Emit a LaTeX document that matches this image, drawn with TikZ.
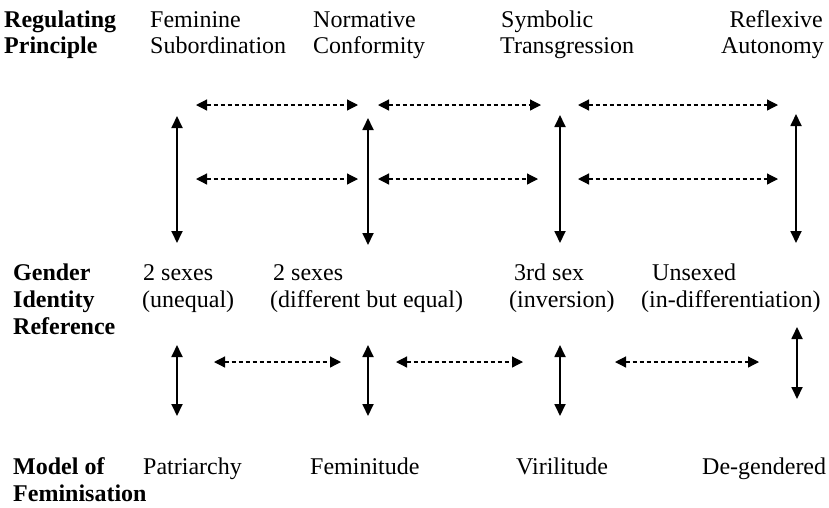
\documentclass[tikz,border=0pt]{standalone}
\usepackage{fontspec}
\setmainfont{Liberation Serif}
\usetikzlibrary{arrows.meta}
\tikzset{
  lbl/.style={anchor=base west, inner sep=0pt, font=\fontsize{24}{26.5}\selectfont},
  hdr/.style={lbl, font=\fontsize{24}{26.5}\selectfont\bfseries},
  rlbl/.style={lbl, anchor=base east},
  solidarrow/.style={line width=1.8pt, {Triangle[length=12pt,width=11pt]}-{Triangle[length=12pt,width=11pt]}},
  dasharrow/.style={line width=1.2pt, dash pattern=on 4pt off 3pt, {Triangle[length=11pt,width=11pt]}-{Triangle[length=11pt,width=11pt]}}
}
\begin{document}
\begin{tikzpicture}[x=1pt,y=-1pt]
\useasboundingbox (0,0) rectangle (829,507);
% header column
\node[hdr] (h1a) at (4,27) {Regulating};
\node[hdr] (h1b) at (4,53) {Principle};
\node[hdr] (h2a) at (13,280) {Gender};
\node[hdr] (h2b) at (13,307) {Identity};
\node[hdr] (h2c) at (13,334) {Reference};
\node[hdr] (h3a) at (13,474) {Model of};
\node[hdr] (h3b) at (13,501) {Feminisation};
% top row
\node[lbl] (t1a) at (150,27) {Feminine};
\node[lbl] (t1b) at (150,53) {Subordination};
\node[lbl] (t2a) at (313,27) {Normative};
\node[lbl] (t2b) at (313,53) {Conformity};
\node[lbl] (t3a) at (501,27) {Symbolic};
\node[lbl] (t3b) at (500,53) {Transgression};
\node[rlbl] (t4a) at (823,27) {Reflexive};
\node[rlbl] (t4b) at (824,53) {Autonomy};
% middle row
\node[lbl] (m1a) at (143,280) {2 sexes};
\node[lbl] (m1b) at (142,307) {(unequal)};
\node[lbl] (m2a) at (273,280) {2 sexes};
\node[lbl] (m2b) at (270,307) {(different but equal)};
\node[lbl] (m3a) at (514,280) {3rd sex};
\node[lbl] (m3b) at (509,307) {(inversion)};
\node[lbl] (m4a) at (652,280) {Unsexed};
\node[lbl] (m4b) at (641,307) {(in-differentiation)};
% bottom row
\node[lbl] (b1) at (143,474) {Patriarchy};
\node[lbl] (b2) at (310,474) {Feminitude};
\node[lbl] (b3) at (516,474) {Virilitude};
\node[lbl] (b4) at (702,474) {De-gendered};
% coordinates for arrow ends
\coordinate (ua1t) at (177,116); \coordinate (ua1b) at (177,243);
\coordinate (ua2t) at (368,118); \coordinate (ua2b) at (368,245);
\coordinate (ua3t) at (560,115); \coordinate (ua3b) at (560,243);
\coordinate (ua4t) at (796,114); \coordinate (ua4b) at (796,243);
\coordinate (la1t) at (177,345); \coordinate (la1b) at (177,416);
\coordinate (la2t) at (368,345); \coordinate (la2b) at (368,416);
\coordinate (la3t) at (560,345); \coordinate (la3b) at (560,416);
\coordinate (la4t) at (797,327); \coordinate (la4b) at (797,399);
\coordinate (r1a) at (196,105); \coordinate (r1b) at (358,105);
\coordinate (r1c) at (378,105); \coordinate (r1d) at (541,105);
\coordinate (r1e) at (578,105); \coordinate (r1f) at (778,105);
\coordinate (r2a) at (196,179); \coordinate (r2b) at (358,179);
\coordinate (r2c) at (378,179); \coordinate (r2d) at (538,179);
\coordinate (r2e) at (578,179); \coordinate (r2f) at (778,179);
\coordinate (r3a) at (214,362); \coordinate (r3b) at (341,362);
\coordinate (r3c) at (396,362); \coordinate (r3d) at (523,362);
\coordinate (r3e) at (615,362); \coordinate (r3f) at (759,362);
% vertical arrows
\draw[solidarrow] (ua1t) -- (ua1b);
\draw[solidarrow] (ua2t) -- (ua2b);
\draw[solidarrow] (ua3t) -- (ua3b);
\draw[solidarrow] (ua4t) -- (ua4b);
\draw[solidarrow] (la1t) -- (la1b);
\draw[solidarrow] (la2t) -- (la2b);
\draw[solidarrow] (la3t) -- (la3b);
\draw[solidarrow] (la4t) -- (la4b);
% dashed arrows
\draw[dasharrow] (r1a) -- (r1b);
\draw[dasharrow] (r1c) -- (r1d);
\draw[dasharrow] (r1e) -- (r1f);
\draw[dasharrow] (r2a) -- (r2b);
\draw[dasharrow] (r2c) -- (r2d);
\draw[dasharrow] (r2e) -- (r2f);
\draw[dasharrow] (r3a) -- (r3b);
\draw[dasharrow] (r3c) -- (r3d);
\draw[dasharrow] (r3e) -- (r3f);
\end{tikzpicture}
\end{document}
